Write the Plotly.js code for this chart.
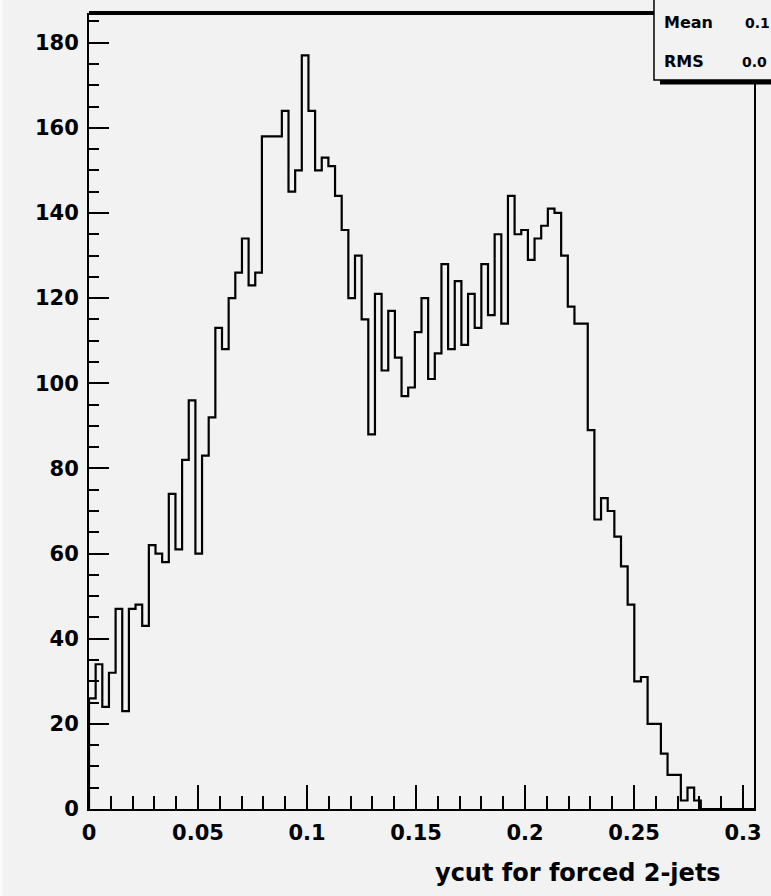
<!DOCTYPE html>
<html>
<head>
<meta charset="utf-8">
<script src="https://cdn.plot.ly/plotly-3.0.1.min.js"></script>
<style>
  html, body { margin: 0; padding: 0; background: #f2f2f2; }
  #chart { width: 771px; height: 896px; }
</style>
</head>
<body>
<div id="chart"></div>
<script>
// Histogram: 100 bins over [0, 0.305]
const binLow = 0;
const binWidth = 0.00305;
const counts = [
  26, 34, 24, 32, 47, 23, 47, 48, 43, 62,
  60, 58, 74, 61, 82, 96, 60, 83, 92, 113,
  108, 120, 126, 134, 123, 126, 158, 158, 158, 164,
  145, 150, 177, 164, 150, 153, 151, 144, 136, 120,
  130, 115, 88, 121, 103, 117, 106, 97, 99, 112,
  120, 101, 107, 128, 108, 124, 109, 121, 113, 128,
  116, 135, 114, 144, 135, 136, 129, 134, 137, 141,
  140, 130, 118, 114, 114, 89, 68, 73, 70, 64,
  57, 48, 30, 31, 20, 20, 13, 8, 8, 2,
  5, 2, 0, 0, 0, 0, 0, 0, 0, 0
];
const xTitle = "ycut for forced 2-jets";
const statNames = ["Mean", "RMS"];
const statValues = ["0.1", "0.0"];   // visible part of the (cut-off) stats values

// Step outline (ROOT style): start and end at baseline
const xs = [binLow];
const ys = [0];
counts.forEach((c, i) => { xs.push(binLow + i * binWidth); ys.push(c); });
xs.push(binLow + counts.length * binWidth);
ys.push(0);

const tickFont = { family: "DejaVu Sans", weight: "bold", size: 21, color: "#000" };

const trace = {
  type: "scatter",
  mode: "lines",
  x: xs,
  y: ys,
  line: { shape: "hv", color: "#000", width: 2.2 },
  hoverinfo: "skip"
};

const layout = {
  width: 771,
  height: 896,
  margin: { l: 89, r: 17, t: 15, b: 87 },
  paper_bgcolor: "#f2f2f2",
  plot_bgcolor: "#f2f2f2",
  showlegend: false,
  xaxis: {
    range: [0, 0.305],
    tickmode: "linear",
    tick0: 0,
    dtick: 0.05,
    ticks: "inside",
    ticklen: 24,
    tickwidth: 2,
    tickcolor: "#000",
    minor: { dtick: 0.01, ticks: "inside", ticklen: 13, tickwidth: 2, tickcolor: "#000", showgrid: false },
    showline: true,
    linecolor: "#000",
    linewidth: 2,
    mirror: true,
    showgrid: false,
    zeroline: false,
    tickfont: tickFont,
    ticklabelstandoff: 4
  },
  yaxis: {
    range: [0, 186.5],
    tickmode: "linear",
    tick0: 0,
    dtick: 20,
    ticks: "inside",
    ticklen: 20,
    tickwidth: 2,
    tickcolor: "#000",
    minor: { dtick: 5, ticks: "inside", ticklen: 10, tickwidth: 2, tickcolor: "#000", showgrid: false },
    showline: true,
    linecolor: "#000",
    linewidth: 2,
    mirror: true,
    showgrid: false,
    zeroline: false,
    tickfont: tickFont,
    ticklabelstandoff: 4
  },
  shapes: [
    // light strip at the left edge of the canvas
    { type: "rect", xref: "paper", yref: "paper", x0: -89 / 665, x1: -86.5 / 665, y0: -0.2, y1: 1.1,
      fillcolor: "#fbfbfb", line: { width: 0 }, layer: "below" },
    // thick top border
    { type: "line", xref: "paper", yref: "paper", x0: 0, x1: 1, y0: 1.0025, y1: 1.0025,
      line: { color: "#000", width: 4 }, layer: "above" },
    // stats box shadow
    { type: "rect", xref: "paper", yref: "paper", x0: 0.8586, x1: 1.1, y0: 0.9125, y1: 0.92,
      fillcolor: "#000", line: { width: 0 }, layer: "above" },
    // stats box
    { type: "rect", xref: "paper", yref: "paper", x0: 0.8496, x1: 1.1, y0: 0.918, y1: 1.1,
      fillcolor: "#f2f2f2", line: { color: "#000", width: 1.5 }, layer: "above" }
  ],
  annotations: [
    { xref: "paper", yref: "paper", x: 0.9534, y: -0.0806, xanchor: "right", yanchor: "middle",
      text: xTitle, showarrow: false,
      font: { family: "DejaVu Sans", weight: "bold", size: 24, color: "#000" } },
    { xref: "paper", yref: "paper", x: 0.8616, y: (809 - 23) / 794, xanchor: "left", yanchor: "middle",
      text: statNames[0], showarrow: false,
      font: { family: "DejaVu Sans", weight: "bold", size: 16, color: "#000" } },
    { xref: "paper", yref: "paper", x: 0.8616, y: (809 - 62) / 794, xanchor: "left", yanchor: "middle",
      text: statNames[1], showarrow: false,
      font: { family: "DejaVu Sans", weight: "bold", size: 16, color: "#000" } },
    { xref: "paper", yref: "paper", x: (743 - 89) / 665, y: (809 - 23) / 794, xanchor: "left", yanchor: "middle",
      text: statValues[0], showarrow: false,
      font: { family: "DejaVu Sans", weight: "bold", size: 14, color: "#000" } },
    { xref: "paper", yref: "paper", x: (740 - 89) / 665, y: (809 - 62) / 794, xanchor: "left", yanchor: "middle",
      text: statValues[1], showarrow: false,
      font: { family: "DejaVu Sans", weight: "bold", size: 14, color: "#000" } }
  ]
};

Plotly.newPlot("chart", [trace], layout, { displayModeBar: false, staticPlot: true });
</script>
</body>
</html>
